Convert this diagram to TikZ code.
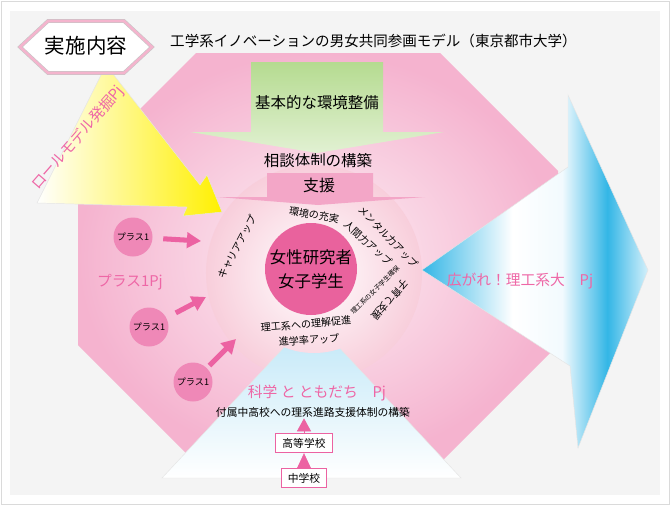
\documentclass[tikz,border=0pt]{standalone}
\usepackage{fontspec}
\setmainfont{Noto Sans CJK JP}
\usetikzlibrary{arrows.meta, positioning, calc}

\definecolor{panelgray}{HTML}{F4F4F4}
\definecolor{framegray}{HTML}{DADADA}
\definecolor{octpink}{HTML}{F5B3CF}
\definecolor{octlight}{HTML}{FDF0F5}
\definecolor{ringpink}{HTML}{F8CEDB}
\definecolor{corepink}{HTML}{E9629D}
\definecolor{pluspink}{HTML}{EF88B7}
\definecolor{arrowpink}{HTML}{EC62A2}
\definecolor{textpink}{HTML}{EE67A6}
\definecolor{supportpink}{HTML}{F3A6C7}
\definecolor{badgepink}{HTML}{F4B4CD}
\definecolor{leafgreen}{HTML}{B5DB90}
\definecolor{skyblue}{HTML}{33B6E6}
\definecolor{iceblue}{HTML}{F2FAFE}
\definecolor{mistblue}{HTML}{D4F0FB}
\definecolor{paleblue}{HTML}{BDE6F7}
\definecolor{lemon}{HTML}{FFF000}

\pgfdeclarehorizontalshading{spreadblue}{100bp}{color(0bp)=(skyblue); color(25bp)=(skyblue); color(45bp)=(white); color(56bp)=(iceblue); color(66bp)=(skyblue); color(75bp)=(mistblue); color(100bp)=(mistblue)}

\begin{document}
\begin{tikzpicture}[x=0.03cm, y=-0.03cm,
    plain/.style={font=\fontsize{13.2}{15}\selectfont, inner sep=1pt},
    pinklabel/.style={font=\fontsize{12.6}{14}\selectfont, text=textpink, inner sep=1pt},
    ringtext/.style={font=\fontsize{8.6}{10}\selectfont, inner sep=0pt},
    core/.style={circle, fill=corepink, minimum size=2.76cm, inner sep=0pt, align=center, font=\fontsize{14}{20.5}\selectfont},
    plusdot/.style={circle, fill=pluspink, minimum size=1.17cm, inner sep=0pt, font=\fontsize{7.8}{9}\selectfont},
    plusarrow/.style={-{Triangle[length=12pt,width=13pt]}, line width=4.3pt, arrowpink, shorten <=9pt},
    school/.style={draw=arrowpink, line width=0.9pt, fill=white, inner xsep=0.2cm, minimum height=0.58cm, font=\fontsize{9.2}{11}\selectfont},
    climb/.style={-{Triangle[length=#1,width=12pt]}, line width=0.5pt, arrowpink}
]
\useasboundingbox (0,0) rectangle (670,505);

% frame and panel
\draw[framegray, fill=white, line width=0.8pt] (1,1) rectangle (669,504);
\fill[panelgray] (10,11) rectangle (660,495);

% octagon
\shade[inner color=octlight, outer color=octpink] (196,53) -- (440,53) -- (558,171) -- (558,345) -- (440,463) -- (196,463) -- (78,345) -- (78,171) -- cycle;

% green arrow
\shade[top color=leafgreen, middle color=white, bottom color=leafgreen!40] (251,62) -- (383,62) -- (383,132) -- (444,132) -- (317,153) -- (190,132) -- (251,132) -- cycle;
\node[plain] (basics) at (317,103) {基本的な環境整備};
\node[plain] (consult) at (318,161) {相談体制の構築};

% blue arrow to the right
\shade[shading=spreadblue, draw=gray!20, line width=0.4pt] (422,270) -- (568,167) -- (568,95) -- (648,270) -- (578,448) -- (570,366) -- cycle;
\node[pinklabel] (spread) at (520,281) {広がれ！理工系大　Pj};

% ring
\node[circle, minimum size=6.48cm, inner color=white, outer color=ringpink] (ring) at (314,273) {};

% blue arrow from below
\shade[top color=paleblue, middle color=paleblue!60!white, bottom color=white, draw=gray!20, line width=0.4pt] (311.5,318) -- (461,478) -- (162,478) -- cycle;
\shade[inner color=white, outer color=ringpink!74!white] (314,273) circle[radius=80];

% yellow arrow
\shade[left color=white, middle color=white!85!lemon, right color=lemon, draw=gray!20, line width=0.4pt] (106,65) -- (200,185) -- (207,175) -- (222,212) -- (183,216) -- (187,207) -- (37,203) -- cycle;
\node[pinklabel, rotate=49] (rolemodel) at (78,138) {ロールモデル発掘Pj};

% support
\fill[supportpink] (267,173) -- (373,173) -- (373,197) -- (425,197) -- (318,205) -- (217,197) -- (267,197) -- cycle;
\node[font=\fontsize{13.6}{15}\selectfont, inner sep=1pt] (support) at (319,185) {支援};

\node[core] (core) at (311,269) {女性研究者\\女子学生};

\node[ringtext, rotate=-9] (envtext) at (314,215) {環境の充実};
\node[ringtext, rotate=-42] (humantext) at (368,243) {人間力アップ};
\node[ringtext, rotate=-46] (mentaltext) at (388,237) {メンタル力アップ};
\node[ringtext, rotate=62] (careertext) at (237,247) {キャリアアップ};
\node[ringtext, rotate=45, font=\fontsize{5.6}{7}\selectfont] (recruittext) at (375,290) {理工系の女子学生確保};
\node[ringtext, rotate=-131] (childtext) at (390,300) {子育て支援};
\node[ringtext, rotate=5] (undertext) at (306,324) {理工系への理解促進};
\node[ringtext, rotate=4] (advtext) at (309,340) {進学率アップ};

% plus one
\node[plusdot] (p1) at (133,237) {プラス1};
\node[plusdot] (p2) at (149,327) {プラス1};
\node[plusdot] (p3) at (193,382) {プラス1};
\coordinate (a1) at (201,241);
\coordinate (a2) at (206,297);
\coordinate (a3) at (236,339);
\draw[plusarrow] (p1) -- (a1);
\draw[plusarrow] (p2) -- (a2);
\draw[plusarrow, shorten <=3pt] (p3) -- (a3);
\node[pinklabel] (plusone) at (130,282) {プラス1Pj};

% schools
\node[pinklabel] (friends) at (317,393) {科学 と ともだち　Pj};
\node[font=\fontsize{9.2}{11}\selectfont, inner sep=1pt] (guide) at (313,412) {付属中高校への理系進路支援体制の構築};
\node[school] (hs) at (304,443) {高等学校};
\node[school] (jhs) at (304,478) {中学校};
\draw[climb=13pt] (jhs) -- (hs);
\draw[climb=11pt] (hs) -- (hs |- guide.south);

% title
\filldraw[fill=white, draw=gray!45, line width=0.5pt, double=badgepink, double distance=2.2pt] (20,47) -- (48,21) -- (124,21) -- (152,47) -- (124,73) -- (48,73) -- cycle;
\node[font=\fontsize{17.5}{20}\selectfont, inner sep=0pt] (badge) at (86,46) {実施内容};
\node[anchor=west, font=\fontsize{12.4}{14}\selectfont, inner sep=0pt] (title) at (170,41) {工学系イノベーションの男女共同参画モデル（東京都市大学）};

\end{tikzpicture}
\end{document}
